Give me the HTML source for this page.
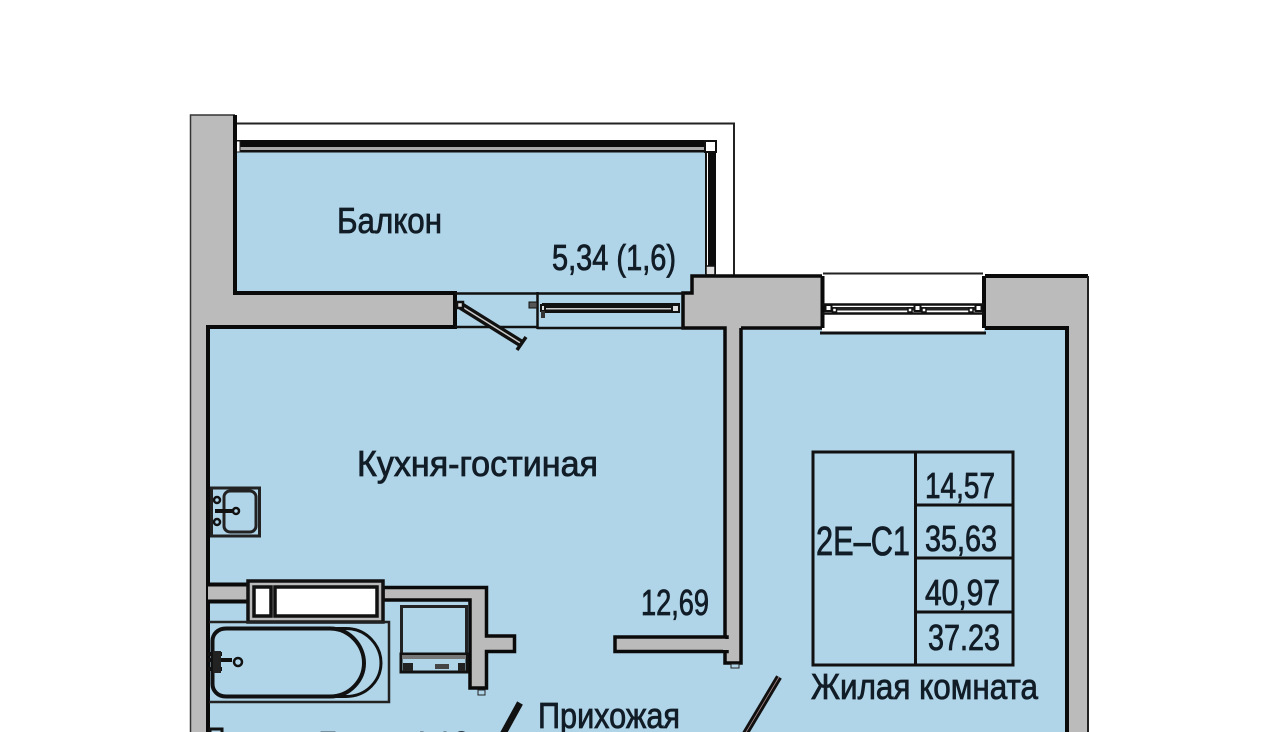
<!DOCTYPE html>
<html lang="ru">
<head>
<meta charset="utf-8">
<title>План квартиры</title>
<style>
html,body{margin:0;padding:0;background:#fff;width:1280px;height:732px;overflow:hidden}
svg{display:block}
text{font-family:"Liberation Sans","DejaVu Sans",sans-serif;fill:#111c26;stroke:#111c26;stroke-width:.8px;font-size:36px}
</style>
</head>
<body>
<svg width="1280" height="732" viewBox="0 0 1280 732" xmlns="http://www.w3.org/2000/svg">
<!-- blue floors -->
<rect x="235" y="150" width="473" height="145" fill="#b0d4e8"/>
<rect x="455" y="293" width="230" height="37" fill="#b0d4e8"/>
<rect x="208" y="328" width="860" height="404" fill="#b0d4e8"/>

<!-- balcony outline -->
<path d="M234 123.500H734V276" fill="none" stroke="#222" stroke-width="2"/>

<!-- balcony railing top -->
<rect x="235" y="141" width="472" height="10" fill="#aaa"/>
<rect x="235" y="140" width="472" height="7" fill="#0c0c0c"/>
<rect x="235" y="150" width="472" height="2.500" fill="#111"/>
<rect x="236" y="141" width="4" height="11" fill="#fff" stroke="#222"/>
<!-- balcony railing right -->
<rect x="706" y="150" width="10" height="126" fill="#fff"/>
<rect x="708" y="152" width="8" height="122" fill="#0c0c0c"/>
<rect x="705" y="152" width="2" height="122" fill="#111"/>
<rect x="705" y="141" width="11" height="11" fill="#fff" stroke="#111" stroke-width="2"/>
<rect x="706" y="266" width="9" height="9" fill="#ddd" stroke="#111" stroke-width="1.500"/>

<!-- left wall -->
<path d="M190 115.500H235V293H455V327H208V732H190Z" fill="#bbb"/>
<path d="M190.500 732V115H235" fill="none" stroke="#333" stroke-width="1.500"/>
<path d="M235 115V293H455V327H208V732" fill="none" stroke="#0a0a0a" stroke-width="4"/>

<!-- middle wall block and partition -->
<path d="M822 276H692V293H683V328H725V663H741V328H822Z" fill="#bbb"/>
<path d="M822 276H692V293H683V328H725V652M741 328V663H725V652M741 328H822" fill="none" stroke="#0a0a0a" stroke-width="3.500"/>
<!-- right wall -->
<path d="M985 276H1088V732H1067V328H985Z" fill="#bbb"/>
<path d="M985 276H1088M985 328H1067V732" fill="none" stroke="#0a0a0a" stroke-width="4"/>
<rect x="1087" y="276" width="2" height="456" fill="#222"/>

<!-- stub toward partition -->
<path d="M727 637H615V651.500H727Z" fill="#bbb" stroke="#0a0a0a" stroke-width="3.500"/>
<rect x="723" y="639" width="16" height="11" fill="#bbb"/>
<rect x="731" y="664" width="8" height="4" fill="#b0d4e8" stroke="#222"/>

<!-- balcony door region -->
<path d="M455 293.500H684" stroke="#111" stroke-width="2.500"/>
<path d="M455 327H537M537 328H684" stroke="#111" stroke-width="2.500"/>
<path d="M537.500 292V329" stroke="#111" stroke-width="2.500"/>
<!-- door leaf -->
<path d="M461 306L522 344" stroke="#111" stroke-width="8"/>
<path d="M461 306L522 344" stroke="#ccc" stroke-width="1.500"/>
<rect x="457" y="302" width="6" height="6" fill="#ddd" stroke="#111" stroke-width="2.500"/>
<path d="M517 350L526 337" stroke="#111" stroke-width="3.500"/>
<!-- sliding door -->
<rect x="542" y="303" width="138" height="10" fill="#111"/>
<rect x="542" y="308" width="138" height="1.500" fill="#ccc"/>
<rect x="529" y="302" width="8" height="6" fill="#555" stroke="#111"/>
<rect x="541" y="305" width="4" height="6" fill="#ddd" stroke="#111" stroke-width="2"/>
<rect x="541" y="311" width="4" height="7" fill="#333"/>
<rect x="672" y="305" width="7" height="7" fill="#ddd" stroke="#111" stroke-width="2"/>

<!-- right window -->
<rect x="822" y="273" width="162" height="60" fill="#fff"/>
<path d="M823 273.500H983" stroke="#222" stroke-width="2"/>
<path d="M820 333H986" stroke="#111" stroke-width="3"/>
<path d="M822.500 276V328M984 276V328" stroke="#0a0a0a" stroke-width="4"/>
<path d="M822 304.500H984M822 313.500H984" stroke="#111" stroke-width="2.500"/>
<rect x="825" y="307" width="152" height="3.500" fill="#222"/>
<rect x="825.500" y="305" width="6" height="6" fill="#fff" stroke="#111" stroke-width="2"/>
<rect x="832.500" y="308" width="4" height="4" fill="#fff" stroke="#111" stroke-width="1.500"/>
<rect x="908" y="308" width="4" height="4" fill="#fff" stroke="#111" stroke-width="1.500"/>
<rect x="914.500" y="305" width="6" height="6" fill="#fff" stroke="#111" stroke-width="2"/>
<rect x="922" y="308" width="4" height="4" fill="#fff" stroke="#111" stroke-width="1.500"/>
<rect x="969" y="308" width="4" height="4" fill="#fff" stroke="#111" stroke-width="1.500"/>
<rect x="975.500" y="305" width="6" height="6" fill="#fff" stroke="#111" stroke-width="2"/>

<!-- kitchen sink -->
<rect x="211.500" y="488" width="48" height="48" fill="none" stroke="#222" stroke-width="3"/>
<rect x="224" y="491" width="32" height="41" rx="6" fill="none" stroke="#222" stroke-width="3"/>
<circle cx="217" cy="500" r="3" fill="none" stroke="#111" stroke-width="2.500"/>
<circle cx="217" cy="522" r="3" fill="none" stroke="#111" stroke-width="2.500"/>
<path d="M215 511H235" stroke="#111" stroke-width="4"/>
<circle cx="236" cy="511" r="3" fill="#b0d4e8" stroke="#111" stroke-width="2.500"/>

<!-- bathroom walls -->
<path d="M208 585H248V601H208Z" fill="#bbb"/>
<path d="M208 584.500H248M208 601.500H248" stroke="#0a0a0a" stroke-width="4"/>
<path d="M383 587.500H486.500V636H514.500V651.500H486.500V688H470V600H383Z" fill="#bbb" stroke="#0a0a0a" stroke-width="3.500"/>
<rect x="478" y="690" width="7" height="5" fill="#b0d4e8" stroke="#222"/>
<!-- shaft -->
<rect x="248" y="581" width="135" height="41" fill="#bbb" stroke="#111" stroke-width="3.500"/>
<rect x="254" y="587" width="17" height="29" fill="#fff" stroke="#111" stroke-width="3.500"/>
<rect x="275" y="587" width="102" height="29" fill="#fff" stroke="#111" stroke-width="3.500"/>

<!-- bath -->
<path d="M209 622H389V702H209" fill="none" stroke="#222" stroke-width="2.500"/>
<path d="M226 628.500H346C367 628.500 381 646 381 663C381 680 367 696.500 346 696.500H226C217 696.500 212.500 690 212.500 684V641C212.500 634 218 628.500 226 628.500Z" fill="none" stroke="#111" stroke-width="3"/>
<path d="M226 628.500H330C350 628.500 364 646 364 663C364 680 350 696.500 330 696.500H226C217 696.500 212.500 690 212.500 684V641C212.500 634 218 628.500 226 628.500Z" fill="none" stroke="#111" stroke-width="4"/>
<path d="M208 654H222M208 660H232M208 669H222" stroke="#111" stroke-width="4"/>
<rect x="213" y="651" width="8" height="22" fill="#222"/>
<circle cx="238" cy="662" r="4" fill="#b0d4e8" stroke="#111" stroke-width="2.500"/>

<!-- washer -->
<rect x="401.500" y="606.500" width="65" height="60" fill="none" stroke="#222" stroke-width="3"/>
<rect x="401" y="654" width="66" height="18" fill="#b0d4e8" stroke="#111" stroke-width="3"/>
<rect x="402" y="655" width="64" height="4" fill="#777"/>
<rect x="403" y="663" width="10" height="8" fill="#222"/>
<rect x="435" y="664" width="14" height="5" fill="#444"/>
<rect x="458" y="663" width="7" height="8" fill="#222"/>

<!-- entry door leaves -->
<path d="M779 677L745 734" stroke="#111" stroke-width="6.500"/>
<path d="M779 677L745 734" stroke="#a88" stroke-width="0.800"/>
<path d="M520 703L503 734" stroke="#111" stroke-width="6.500"/>
<path d="M210 732V729H222V732" fill="none" stroke="#111" stroke-width="3"/>

<!-- table -->
<rect x="813" y="452" width="200" height="213" fill="none" stroke="#111" stroke-width="3"/>
<path d="M915.500 452V665M915 505H1013M915 558H1013M915 612H1013" stroke="#111" stroke-width="3" fill="none"/>

<!-- labels -->
<text x="337" y="233" textLength="105" lengthAdjust="spacingAndGlyphs">Балкон</text>
<text x="552" y="270" textLength="124" lengthAdjust="spacingAndGlyphs">5,34 (1,6)</text>
<text x="357" y="476" textLength="241" lengthAdjust="spacingAndGlyphs">Кухня-гостиная</text>
<text x="641" y="615" textLength="68" lengthAdjust="spacingAndGlyphs">12,69</text>
<text x="538" y="728" textLength="142" lengthAdjust="spacingAndGlyphs">Прихожая</text>
<text x="925" y="498" textLength="70" lengthAdjust="spacingAndGlyphs">14,57</text>
<text x="925" y="551" textLength="72" lengthAdjust="spacingAndGlyphs">35,63</text>
<text x="925" y="605" textLength="75" lengthAdjust="spacingAndGlyphs">40,97</text>
<text x="928" y="650" textLength="72" lengthAdjust="spacingAndGlyphs">37.23</text>
<text x="816" y="555" style="font-size:41px" textLength="94" lengthAdjust="spacingAndGlyphs">2E–C1</text>
<text x="811" y="699" textLength="227" lengthAdjust="spacingAndGlyphs">Жилая комната</text>
<text x="410" y="757" textLength="60" lengthAdjust="spacingAndGlyphs">4,18</text>
<text x="318" y="757" textLength="20" lengthAdjust="spacingAndGlyphs">5</text>
</svg>
</body>
</html>
